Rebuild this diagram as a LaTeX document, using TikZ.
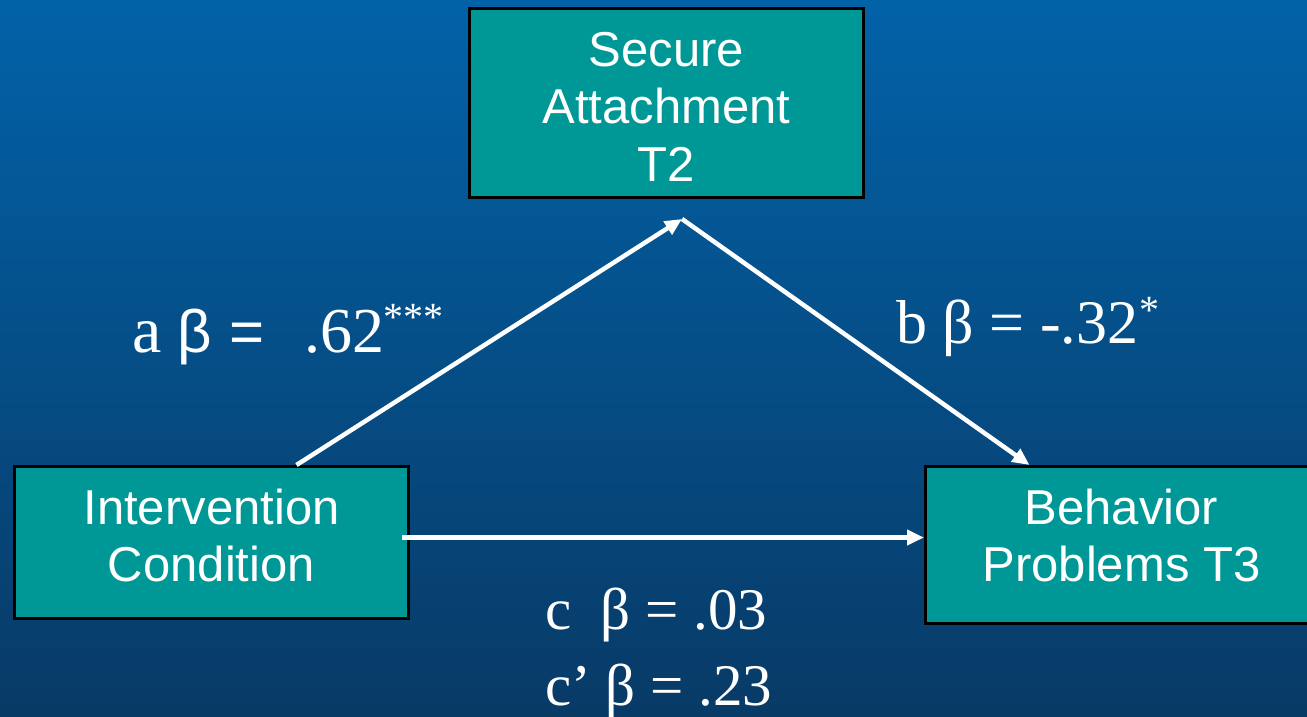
\documentclass[tikz,border=0pt]{standalone}
\usepackage{fontspec}
\setmainfont{Liberation Serif}
\newfontfamily\boxfont{Liberation Sans}
\usetikzlibrary{arrows.meta}
\definecolor{bgtop}{RGB}{2,98,168}
\definecolor{bgbot}{RGB}{8,58,102}
\definecolor{tealbox}{RGB}{0,152,150}
\newcommand{\starsup}[2]{\raisebox{#1}{\fontsize{#2}{#2}\selectfont *}}
\begin{document}
\begin{tikzpicture}[x=1pt,y=-1pt,
  box/.style={draw=black,line width=3pt,fill=tealbox,inner sep=0pt,anchor=north west},
  boxtext/.style={text=white,font=\boxfont\fontsize{49}{57.5}\selectfont,align=center,inner sep=0pt},
  lbl/.style={text=white,inner sep=0pt,anchor=base west},
  conn/.style={white,line width=4.5pt},
  arr/.style={conn,-{Triangle[length=17pt,width=15pt]}}]
\useasboundingbox (0,0) rectangle (1307,717);
\clip (0,0) rectangle (1307,717);
\shade[top color=bgtop,bottom color=bgbot] (0,0) rectangle (1307,717);
% boxes
\node[box,minimum width=394pt,minimum height=189pt] (S) at (468,7) {};
\node[box,minimum width=394pt,minimum height=152pt] (I) at (13,465) {};
\node[box,minimum width=392pt,minimum height=157pt] (B) at (924,465) {};
\node[boxtext] (St) at ([yshift=-3.5pt]S.center) {Secure\\Attachment\\T2};
\node[boxtext] (It) at ([yshift=7pt]I.center) {Intervention\\Condition};
\node[boxtext] (Bt) at ([yshift=9.5pt]B.center) {Behavior\\Problems T3};
% connectors
\coordinate (apex) at (682,219);
\draw[arr] ([xshift=85pt]I.north) -- (apex);
\draw[arr] (apex) -- ([xshift=-92pt]B.north);
\coordinate (cstart) at ([xshift=-8pt,yshift=5pt]I.east);
\draw[arr] (cstart) -- (cstart -| B.west);
% labels
\node[lbl] (la) at (132,352) {\fontsize{66}{66}\selectfont a {\boxfont\fontsize{60}{60}\selectfont β =}\hspace{40pt}\fontsize{64}{64}\selectfont .62\kern-1pt\raisebox{22pt}{\fontsize{40}{40}\selectfont ***}};
\node[lbl,font=\fontsize{62}{62}\selectfont] (lb) at (896,343) {b β = -.32\kern1pt\raisebox{20pt}{\fontsize{40}{40}\selectfont *}};
\node[lbl,font=\fontsize{59}{59}\selectfont] (lc) at (545,629) {c\ \ β = .03};
\node[lbl,font=\fontsize{59}{59}\selectfont] (lc2) at (545,705) {c’ β = .23};
\end{tikzpicture}
\end{document}
